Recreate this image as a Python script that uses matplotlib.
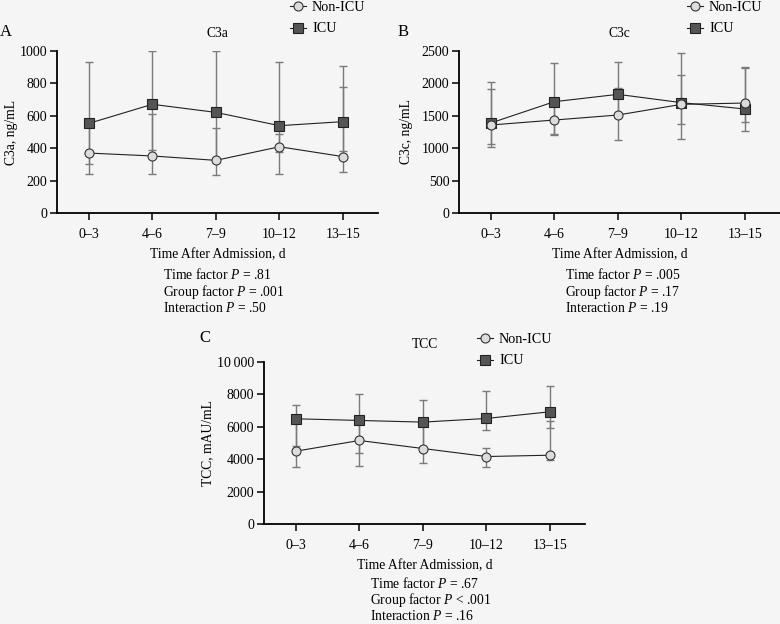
import numpy as np
import matplotlib
matplotlib.use("Agg")
import matplotlib.pyplot as plt
from matplotlib.lines import Line2D

plt.rcParams['font.family'] = ['Liberation Serif', 'DejaVu Serif']
plt.rcParams['mathtext.fontset'] = 'custom'
plt.rcParams['mathtext.rm'] = 'Liberation Serif'
plt.rcParams['mathtext.it'] = 'Liberation Serif:italic'

# ---- data (medians with lower / upper bounds) ----
days = ["0\u20133", "4\u20136", "7\u20139", "10\u201312", "13\u201315"]

c3a_icu = [553, 671, 621, 539, 564]
c3a_icu_lo = [300, 391, 330, 375, 380]
c3a_icu_hi = [934, 1000, 1000, 932, 907]
c3a_non = [370, 352, 325, 409, 348]
c3a_non_lo = [240, 240, 235, 240, 251]
c3a_non_hi = [550, 609, 523, 486, 776]

c3c_icu = [1389, 1718, 1831, 1703, 1605]
c3c_icu_lo = [1065, 1214, 1512, 1142, 1265]
c3c_icu_hi = [2027, 2320, 2330, 2474, 2233]
c3c_non = [1358, 1435, 1512, 1677, 1697]
c3c_non_lo = [1019, 1204, 1132, 1373, 1409]
c3c_non_hi = [1909, 1720, 1929, 2125, 2258]

tcc_icu = [6495, 6392, 6289, 6515, 6928]
tcc_icu_lo = [4790, 4371, 4660, 5814, 5897]
tcc_icu_hi = [7340, 8000, 7629, 8186, 8515]
tcc_non = [4495, 5155, 4660, 4165, 4247]
tcc_non_lo = [3505, 3588, 3753, 3526, 3959]
tcc_non_hi = [6495, 6392, 6289, 4680, 6371]

c3a_ticks = [0, 200, 400, 600, 800, 1000]
c3c_ticks = [0, 500, 1000, 1500, 2000, 2500]
tcc_ticks = [0, 2000, 4000, 6000, 8000, 10000]
tcc_ticklabels = ["0", "2000", "4000", "6000", "8000", "10\u2009000"]

stats_a = ["Time factor $P$ = .81", "Group factor $P$ = .001", "Interaction $P$ = .50"]
stats_b = ["Time factor $P$ = .005", "Group factor $P$ = .17", "Interaction $P$ = .19"]
stats_c = ["Time factor $P$ = .67", "Group factor $P$ < .001", "Interaction $P$ = .16"]

BG = '#f5f5f5'
W, H = 780, 624
FS = 9.8
fig = plt.figure(figsize=(7.8, 6.24), dpi=100, facecolor=BG)

icu_style = dict(marker='s', markersize=6.5, markerfacecolor='#555555',
                 markeredgecolor='#222222', markeredgewidth=0.8)
non_style = dict(marker='o', markersize=6.5, markerfacecolor='#dcdcdc',
                 markeredgecolor='#333333', markeredgewidth=0.8)


def px_axes(left, right, top, bottom):
    return fig.add_axes([left / W, 1 - bottom / H, (right - left) / W, (bottom - top) / H])


def draw_series(ax, vals, lo, hi, style):
    x = np.arange(len(vals))
    vals = np.array(vals)
    err = [vals - np.array(lo), np.array(hi) - vals]
    ax.errorbar(x, vals, yerr=err, fmt='none', ecolor='#7a7a7a', elinewidth=1.0,
                capsize=3, capthick=1.0, zorder=2)
    ax.plot(x, vals, color='#222222', lw=0.8, zorder=3, **style)


def panel(ax, title, ylabel, ticks, series, stats, ylab_x, ticklabels=None, stats_y=-0.335):
    ax.set_facecolor(BG)
    for icu, ilo, ihi, non, nlo, nhi in series:
        draw_series(ax, icu, ilo, ihi, icu_style)
        draw_series(ax, non, nlo, nhi, non_style)
    ax.set_xlim(-0.5, 4.55)
    ax.set_ylim(ticks[0], ticks[-1])
    ax.set_yticks(ticks)
    if ticklabels is not None:
        ax.set_yticklabels(ticklabels)
    ax.set_xticks(range(len(days)))
    ax.set_xticklabels(days)
    for s in ['top', 'right']:
        ax.spines[s].set_visible(False)
    for s in ['left', 'bottom']:
        ax.spines[s].set_linewidth(1.3)
    ax.tick_params(axis='both', direction='out', length=5, width=1.1, labelsize=10)
    ax.tick_params(axis='x', pad=6)
    ax.tick_params(axis='y', pad=2)
    ax.set_xlabel("Time After Admission, d", fontsize=FS, labelpad=5)
    ax.set_ylabel(ylabel, fontsize=FS)
    ax.yaxis.set_label_coords(ylab_x, 0.5)
    ax.text(0.5, 1.11, title, transform=ax.transAxes, ha='center', va='center', fontsize=FS)
    ax.text(0.33, stats_y, "\n".join(stats), transform=ax.transAxes, ha='left', va='top',
            fontsize=FS, linespacing=1.02)


def legend_at(x, y):
    handles = [Line2D([], [], color='#222222', lw=0.8, **non_style),
               Line2D([], [], color='#222222', lw=0.8, **icu_style)]
    fig.legend(handles, ["Non-ICU", "ICU"], loc='upper left', bbox_to_anchor=(x / W, 1 - y / H),
               frameon=False, fontsize=10.2, handlelength=1.1, handletextpad=0.45,
               borderpad=0, borderaxespad=0, labelspacing=0.6)


ax_a = px_axes(57, 378, 51, 213)
panel(ax_a, "C3a", "C3a, ng/mL", c3a_ticks,
      [(c3a_icu, c3a_icu_lo, c3a_icu_hi, c3a_non, c3a_non_lo, c3a_non_hi)],
      stats_a, -0.121)

ax_b = px_axes(459, 780, 51, 213)
panel(ax_b, "C3c", "C3c, ng/mL", c3c_ticks,
      [(c3c_icu, c3c_icu_lo, c3c_icu_hi, c3c_non, c3c_non_lo, c3c_non_hi)],
      stats_b, -0.143)

ax_c = px_axes(264, 585, 362, 524)
panel(ax_c, "TCC", "TCC, mAU/mL", tcc_ticks,
      [(tcc_icu, tcc_icu_lo, tcc_icu_hi, tcc_non, tcc_non_lo, tcc_non_hi)],
      stats_c, -0.156, ticklabels=tcc_ticklabels, stats_y=-0.32)

legend_at(290, 1)
legend_at(687, 1)
legend_at(477, 333)

fig.text(0 / W, 1 - 32 / H, "A", fontsize=12, ha='left', va='center')
fig.text(398 / W, 1 - 32 / H, "B", fontsize=12, ha='left', va='center')
fig.text(199 / W, 1 - 338 / H, "C", fontsize=12, ha='left', va='center')

fig.savefig("out.png", dpi=100, facecolor=BG)
